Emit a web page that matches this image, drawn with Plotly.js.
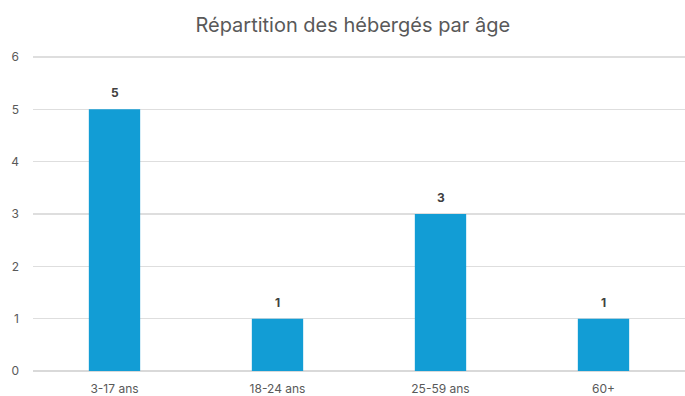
<!DOCTYPE html>
<html>
<head>
<meta charset="utf-8">
<script src="https://cdn.plot.ly/plotly-3.0.1.min.js"></script>
<style>
  html, body { margin: 0; padding: 0; background: #ffffff; }
  #chart { width: 685px; height: 396px; }
</style>
</head>
<body>
<div id="chart"></div>
<script>
// Age groups of hosted people
const categories = ['3-17 ans', '18-24 ans', '25-59 ans', '60+'];
const counts = [5, 1, 3, 1];
const yTicks = [0, 1, 2, 3, 4, 5, 6];

const barColor = '#129dd5';
const textGrey = '#595959';
const fontFamily = 'Inter, "Open Sans", "Liberation Sans", sans-serif';

const trace = {
  type: 'bar',
  x: categories,
  y: counts,
  marker: { color: barColor, line: { width: 0 } },
  hoverinfo: 'none'
};

// Value labels sitting above each bar
const labels = categories.map((c, i) => ({
  x: c,
  y: counts[i],
  xref: 'x',
  yref: 'y',
  text: '<b>' + counts[i] + '</b>',
  showarrow: false,
  yanchor: 'bottom',
  yshift: 7,
  font: { family: fontFamily, size: 12, color: '#404040' }
}));

const layout = {
  width: 685,
  height: 396,
  margin: { l: 33, r: 0, t: 56, b: 25 },
  paper_bgcolor: '#ffffff',
  plot_bgcolor: '#ffffff',
  bargap: 0.685,
  showlegend: false,
  title: {
    text: 'Répartition des hébergés par âge',
    x: 0.515,
    xanchor: 'center',
    y: 0.937,
    yanchor: 'middle',
    font: { family: fontFamily, size: 20, color: textGrey }
  },
  xaxis: {
    type: 'category',
    showgrid: false,
    showline: false,
    ticks: '',
    tickfont: { family: fontFamily, size: 12, color: textGrey },
    ticklabelstandoff: 9,
    fixedrange: true
  },
  yaxis: {
    range: [0, 6.02],
    tickvals: yTicks,
    ticktext: yTicks.map(String),
    showgrid: true,
    gridcolor: '#dedede',
    gridwidth: 1.5,
    zeroline: true,
    zerolinecolor: '#d9d9d9',
    zerolinewidth: 1.5,
    showline: false,
    ticks: '',
    tickfont: { family: fontFamily, size: 12, color: textGrey },
    ticklabelstandoff: 13,
    fixedrange: true
  },
  annotations: labels
};

Plotly.newPlot('chart', [trace], layout, { displayModeBar: false, staticPlot: true });
</script>
</body>
</html>
